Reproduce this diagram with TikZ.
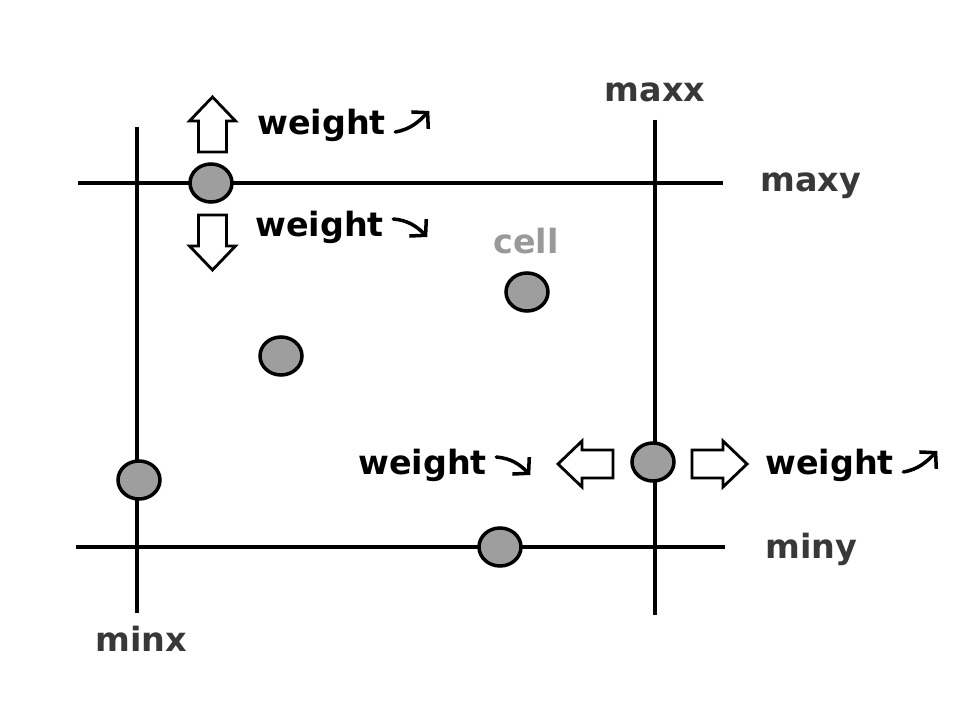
\documentclass[tikz,border=0pt]{standalone}
\usepackage{fontspec}
\setmainfont{DejaVu Sans}
\usetikzlibrary{arrows.meta,shapes.geometric}

\tikzset{
  limit/.style={line width=2pt},
  cellpt/.style={ellipse,draw,line width=2pt,fill=black!38,
    minimum width=0.84cm,minimum height=0.76cm,inner sep=0},
  lbl/.style={font=\bfseries\fontsize{19}{22}\selectfont,inner sep=0},
  limitlbl/.style={lbl,text=black!78},
  trend/.style={line width=2pt,line cap=round,
    -{Straight Barb[length=0.22cm,width=0.48cm]}},
  pics/blockarrow/.style={code={
    \draw[line width=1.6pt,fill=white] (0,-0.28) -- (0.62,-0.28) -- (0.62,-0.46)
      -- (1.1,0) -- (0.62,0.46) -- (0.62,0.28) -- (0,0.28) -- cycle;}}
}

\begin{document}
\begin{tikzpicture}
  % fundal
  \fill[white] (0,0) rectangle (19.54,14.26);
  \useasboundingbox (0,0) rectangle (19.54,14.26);

  % capetele liniilor
  \coordinate (minxT) at (2.74,11.72);
  \coordinate (minxB) at (2.74,2.00);
  \coordinate (maxxT) at (13.10,11.86);
  \coordinate (maxxB) at (13.10,1.96);
  \coordinate (maxyL) at (1.56,10.60);
  \coordinate (maxyR) at (14.46,10.60);
  \coordinate (minyL) at (1.52,3.32);
  \coordinate (minyR) at (14.50,3.32);

  % limite
  \draw[limit] (minxT) -- (minxB);
  \draw[limit] (maxxT) -- (maxxB);
  \draw[limit] (maxyL) -- (maxyR);
  \draw[limit] (minyL) -- (minyR);

  % etichete limite
  \node[limitlbl,anchor=base] (maxx) at (13.10,12.22) {maxx};
  \node[limitlbl,anchor=base west] (maxy) at (15.20,10.42) {maxy};
  \node[limitlbl,anchor=base west] (miny) at (15.30,3.08) {miny};
  \node[limitlbl,anchor=base] (minx) at (2.82,1.22) {minx};
  \node[lbl,text=black!40,anchor=base] (celllbl) at (10.52,9.18) {cell};

  % puncte
  \node[cellpt] (pTop) at (4.22,10.60) {};
  \node[cellpt] (pCell) at (10.54,8.42) {};
  \node[cellpt] (pMid) at (5.62,7.14) {};
  \node[cellpt] (pLeft) at (2.78,4.66) {};
  \node[cellpt] (pRight) at (13.06,5.02) {};
  \node[cellpt] (pBottom) at (10.00,3.32) {};

  % sageti de deplasare
  \pic[rotate=90] at (4.25,11.22) {blockarrow};
  \pic[rotate=-90] at (4.25,9.96) {blockarrow};
  \pic[rotate=180] at (12.26,4.98) {blockarrow};
  \pic at (13.84,4.98) {blockarrow};

  % ponderi
  \node[lbl,anchor=base west] (w1) at (5.14,11.56) {weight};
  \node[lbl,anchor=base west] (w2) at (5.10,9.52) {weight};
  \node[lbl,anchor=base west] (w3) at (7.16,4.76) {weight};
  \node[lbl,anchor=base west] (w4) at (15.30,4.76) {weight};

  % crestere / scadere
  \foreach \w in {w1,w4}
    \draw[trend] ([shift={(0.18,0.06)}]\w.base east) to[out=10,in=225]
      ([shift={(0.86,0.48)}]\w.base east);
  \foreach \w in {w2,w3}
    \draw[trend] ([shift={(0.18,0.36)}]\w.base east) to[out=-5,in=135]
      ([shift={(0.86,0)}]\w.base east);
\end{tikzpicture}
\end{document}
